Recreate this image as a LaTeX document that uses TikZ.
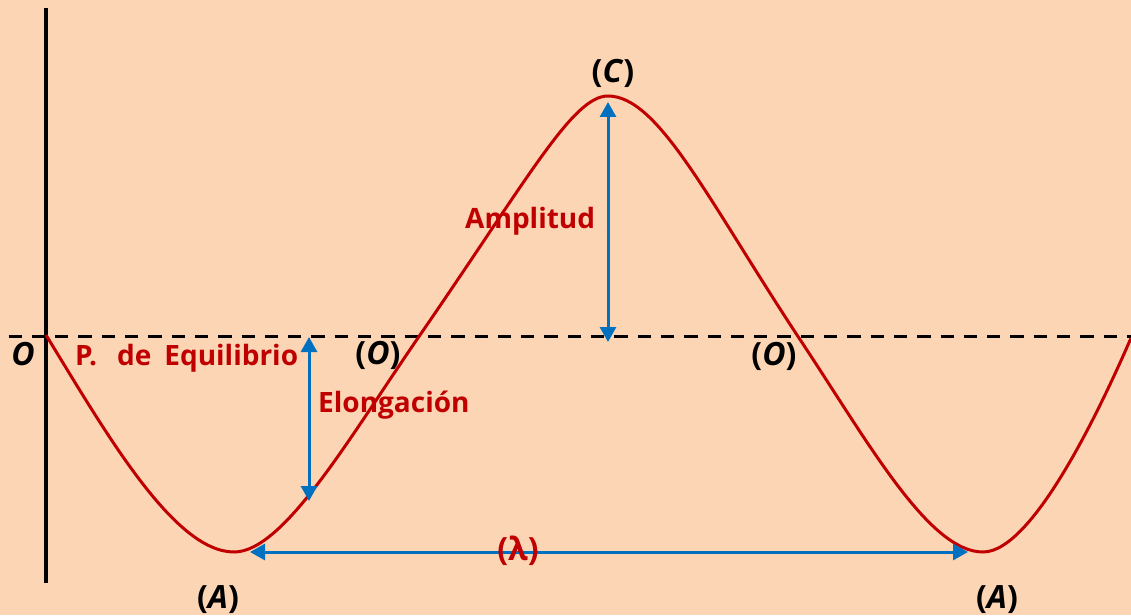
\documentclass[tikz,border=0pt]{standalone}
\usepackage{fontspec}
\setmainfont{Open Sans}
\usetikzlibrary{arrows.meta}
\definecolor{fondo}{HTML}{FCD5B4}
\definecolor{rojo}{HTML}{C00000}
\definecolor{azul}{HTML}{0070C0}
\begin{document}
\begin{tikzpicture}[x = 1pt, y = -1pt,
        etiq/.style = {inner sep = 0pt, font = \fontsize{28}{34}\selectfont\bfseries},
        punto/.style = {inner sep = 0pt, font = \fontsize{32}{38}\selectfont\bfseries},
        flecha/.style = {azul, line width = 3pt, {Triangle[length = 15pt, width = 16pt]}-{Triangle[length = 15pt, width = 16pt]}}]
            \fill[fondo] (0, 0) rectangle (1131, 615);
            \useasboundingbox (0, 0) rectangle (1131, 615);
            % eje y linea de equilibrio
            \draw[black, line width = 3.5pt] (46, 8) -- (46, 583);
            \draw[black, line width = 3pt, dash pattern = on 13.3pt off 10pt] (8.5, 336) -- (1131, 336);
            % rotulos
            \node[punto, anchor = base] (origen) at (23, 365) {\textit{O}};
            \node[etiq, rojo, anchor = base west] (equil) at (75, 365) {P.\hspace{20pt}de\hspace{13pt}Equilibrio};
            \node[etiq, rojo, anchor = base west] (elong) at (318, 412) {Elongación};
            \node[etiq, rojo, anchor = base west] (ampl) at (465, 228) {Amplitud};
            \node[punto, anchor = base] (cresta) at (613, 83) {(\textit{C})};
            \foreach \x/\y/\n in {378/364/cruceA, 774/365/cruceB}{
                \node[punto, anchor = base] (\n) at (\x, \y) {(\textit{O})};
            }
            \foreach \x/\n in {218/valleA, 997/valleB}{
                \node[punto, anchor = base] (\n) at (\x, 608) {(\textit{A})};
            }
            % la onda
            \draw[rojo, line width = 3pt] (46, 335) .. controls (106, 433) and (174, 552) .. (234, 552)
                .. controls (284, 552) and (350, 436.5) .. (420, 335)
                .. controls (530, 175.5) and (573, 96) .. (608, 96)
                .. controls (658, 96) and (707, 198) .. (797, 335)
                .. controls (867, 440) and (928, 552) .. (983, 552)
                .. controls (1033, 552) and (1101, 407) .. (1131, 338);
            % flechas
            \coordinate (elongArriba) at (309, 337);
            \coordinate (elongAbajo) at (309, 501);
            \coordinate (amplArriba) at (608, 102);
            \coordinate (amplAbajo) at (608, 342);
            \coordinate (lambdaIzq) at (250, 552);
            \coordinate (lambdaDer) at (968, 552);
            \draw[flecha] (elongAbajo) -- (elongArriba);
            \draw[flecha] (amplAbajo) -- (amplArriba);
            \draw[flecha] (lambdaIzq) -- (lambdaDer);
            \node[punto, rojo, anchor = base] (lambda) at (518, 560) {(λ)};
        \end{tikzpicture}
\end{document}
